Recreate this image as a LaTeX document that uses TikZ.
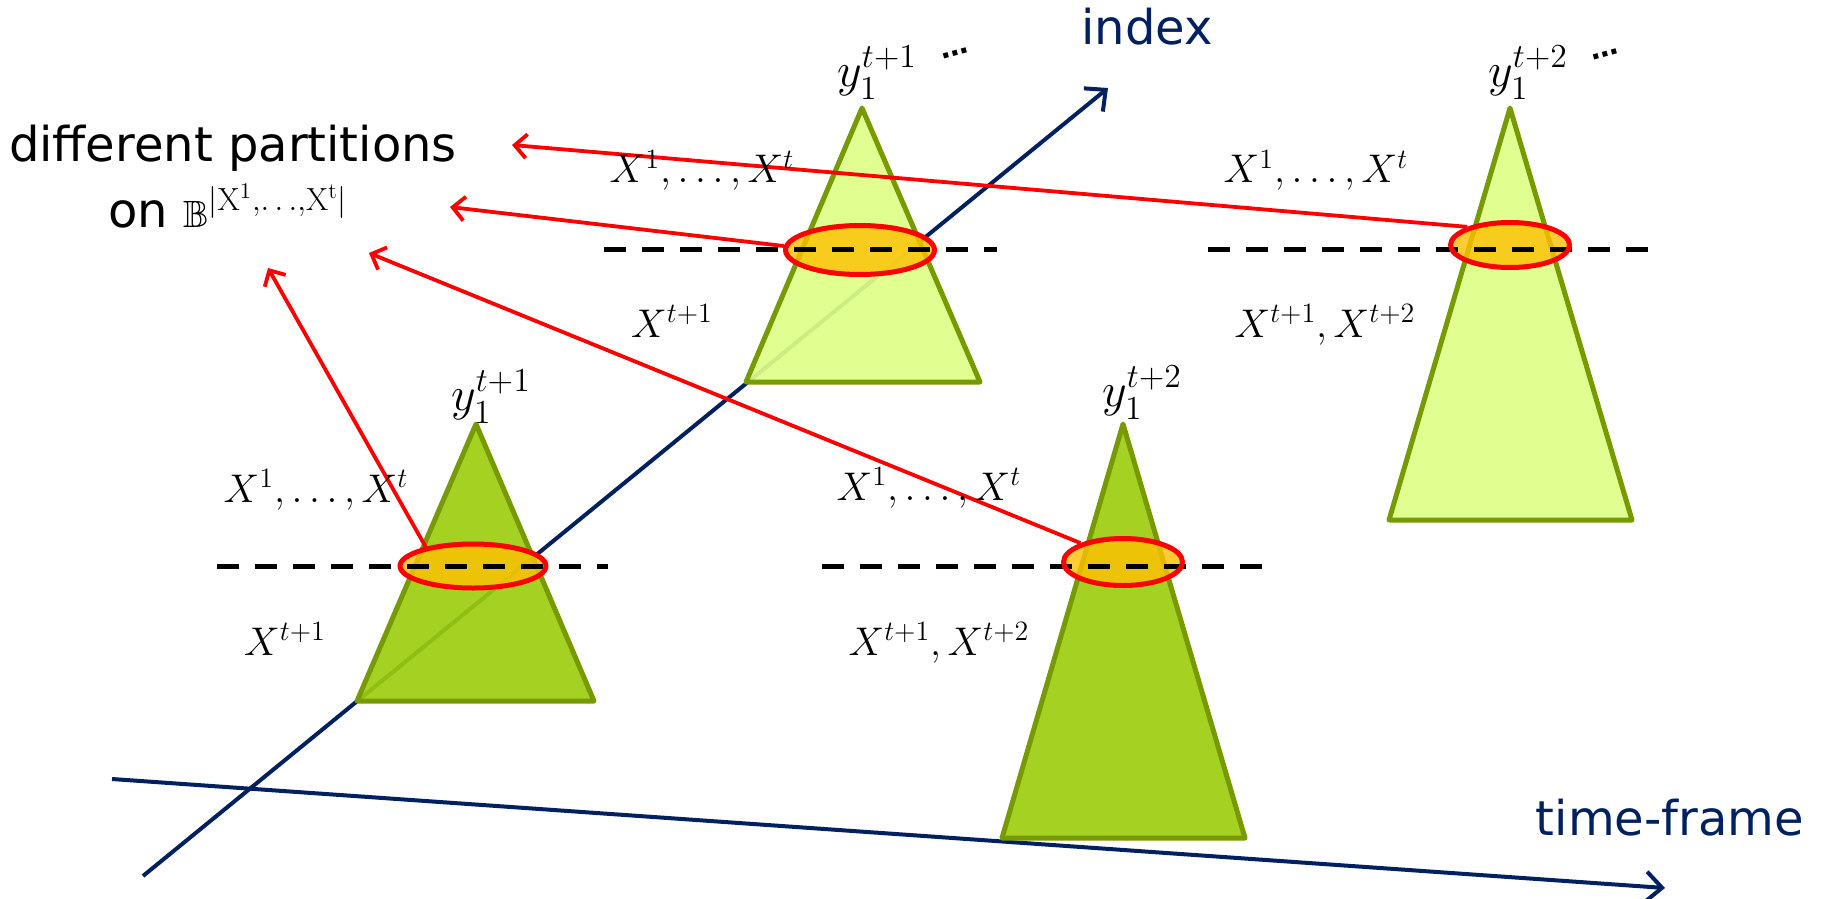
\RequirePackage{fix-cm}
\documentclass[tikz,border=0pt]{standalone}
\usepackage{fontspec}
\usepackage{amssymb}
\usetikzlibrary{arrows.meta,shapes.geometric}
\newfontfamily\dvs{DejaVu Sans}
\definecolor{navy}{HTML}{002060}
\definecolor{darkfill}{HTML}{9CCD0F}
\definecolor{lightfill}{HTML}{DEFF88}
\definecolor{trioutline}{HTML}{769A00}
\definecolor{ovfill}{HTML}{FFC000}
\definecolor{redline}{HTML}{FF0000}
\tikzset{
  axisline/.style={draw=navy,line width=2pt,-{Straight Barb[length=8pt,width=15pt,line width=2pt]}},
  tri/.style={draw=trioutline,line width=2.5pt,line join=round,fill opacity=0.92},
  dashline/.style={draw=black,line width=2.5pt,dash pattern=on 11pt off 8pt},
  ovbase/.style={ellipse,inner sep=0pt,line width=2.5pt},
  ovfillst/.style={ovbase,fill=ovfill,fill opacity=0.8},
  ovline/.style={ovbase,draw=redline},
  redarr/.style={draw=redline,line width=1.9pt,-{Straight Barb[length=6pt,width=12pt,line width=1.9pt]}},
  mlab/.style={font=\fontsize{20}{24}\selectfont,inner sep=0pt,anchor=base},
  ylab/.style={font=\fontsize{24}{28}\selectfont,inner sep=0pt},
  dotlab/.style={font=\dvs\bfseries\fontsize{14}{16}\selectfont,inner sep=0pt},
  axlab/.style={font=\dvs\fontsize{24}{28}\selectfont,text=navy,inner sep=0pt,anchor=base},
}
\begin{document}
\begin{tikzpicture}[x=0.5pt,y=-0.5pt]
\useasboundingbox (0,0) rectangle (1825,899);
% axes
\coordinate (i0) at (143,876);
\coordinate (i1) at (1108,88);
\coordinate (t0) at (112,779);
\coordinate (t1) at (1665,888);
\draw[axisline] (i0) -- (i1);
\draw[axisline] (t0) -- (t1);
\node[axlab] (lindex) at (1147,45) {index};
\node[axlab] (ltime) at (1670,835) {time-frame};
% triangles
\draw[tri,fill=lightfill] (862,108) -- (746,382) -- (980,382) -- cycle;
\draw[tri,fill=lightfill] (1510,108) -- (1389,520) -- (1632,520) -- cycle;
\draw[tri,fill=darkfill] (476,424) -- (357,701) -- (594,701) -- cycle;
\draw[tri,fill=darkfill] (1123,424) -- (1002,838) -- (1245,838) -- cycle;
% ellipse fills
\node[ovfillst,minimum width=73pt,minimum height=22pt] (eA) at (473,566) {};
\node[ovfillst,minimum width=74.5pt,minimum height=24.5pt] (eB) at (860,250) {};
\node[ovfillst,minimum width=59.5pt,minimum height=22.5pt] (eC) at (1510,245) {};
\node[ovfillst,minimum width=59.5pt,minimum height=23.5pt] (eD) at (1123,562) {};
% dashed split lines
\draw[dashline] (217,566) -- (608,566);
\draw[dashline] (604,249) -- (997,249);
\draw[dashline] (1208,249) -- (1648,249);
\draw[dashline] (822,566) -- (1262,566);
% ellipse outlines
\node[ovline,minimum width=73pt,minimum height=22pt] at (eA) {};
\node[ovline,minimum width=74.5pt,minimum height=24.5pt] at (eB) {};
\node[ovline,minimum width=59.5pt,minimum height=22.5pt] at (eC) {};
\node[ovline,minimum width=59.5pt,minimum height=23.5pt] at (eD) {};
% red arrows
\coordinate (pC) at (512,145);
\coordinate (pB) at (450,207);
\coordinate (pD) at (369,253);
\coordinate (pA) at (268,268);
\draw[redarr] (eC.157) -- (pC);
\draw[redarr] (eB.177) -- (pB);
\draw[redarr] (eD.156) -- (pD);
\draw[redarr] (eA.158) -- (pA);
% title text
\node[font=\dvs\fontsize{24}{28}\selectfont,inner sep=0pt,anchor=base] (title1) at (233,162) {different partitions};
\node[font=\dvs\fontsize{24}{28}\selectfont,inner sep=0pt,anchor=base west] (title2) at (108,227)
  {on {\fontsize{19}{20}\selectfont$\mathbb{B}$}\raisebox{8.5pt}{\fontsize{16}{18}\selectfont$|\mathrm{X}^{1}{,}{\ldots}{,}\mathrm{X}^{\mathrm{t}}|$}};
% y labels
\node[ylab] (yA) at (491,397) {$y_1^{t+1}$};
\node[ylab] (yB) at (877,73) {$y_1^{t+1}$};
\node[ylab] (yC) at (1528,73) {$y_1^{t+2}$};
\node[ylab] (yD) at (1142,393) {$y_1^{t+2}$};
\node[dotlab,rotate=15] (dB) at (955,53) {…};
\node[dotlab,rotate=15] (dC) at (1605,54) {…};
% X labels
\node[mlab] (xAu) at (316,502) {$X^1,\ldots,X^t$};
\node[mlab] (xAl) at (285,655) {$X^{t+1}$};
\node[mlab] (xBu) at (702,183) {$X^1,\ldots,X^t$};
\node[mlab] (xBl) at (672,337) {$X^{t+1}$};
\node[mlab] (xCu) at (1316,183) {$X^1,\ldots,X^t$};
\node[mlab] (xCl) at (1325,337) {$X^{t+1},X^{t+2}$};
\node[mlab] (xDu) at (929,500) {$X^1,\ldots,X^t$};
\node[mlab] (xDl) at (939,655) {$X^{t+1},X^{t+2}$};
\end{tikzpicture}
\end{document}
